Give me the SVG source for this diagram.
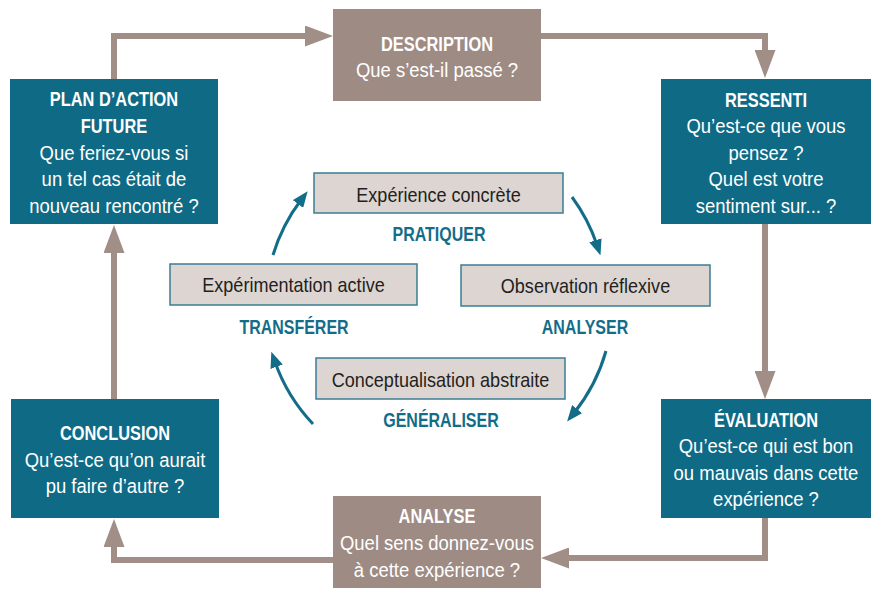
<svg xmlns="http://www.w3.org/2000/svg" width="873" height="615" viewBox="0 0 873 615">
<style>
text{font-family:"Liberation Sans",Arial,sans-serif;text-anchor:middle;transform-box:fill-box;transform-origin:center}
.teal{fill:#0e6a85}
.brown{fill:#9e8b84}
.inner{fill:#dcd5d2;stroke:#3b7d93;stroke-width:1.5}
.h{font-weight:bold;font-size:20px;fill:#fff;transform:scaleX(0.82)}
.t{font-size:21px;fill:#fff;transform:scaleX(0.88)}
.d{font-size:20.5px;fill:#231f20;transform:scaleX(0.88)}
.l{font-weight:bold;font-size:19.5px;fill:#136d89;transform:scaleX(0.82)}
.conn{fill:none;stroke:#a08e87;stroke-width:6}
.cyc{fill:none;stroke:#136d89;stroke-width:3}
</style>
<defs>
<marker id="big" markerUnits="userSpaceOnUse" markerWidth="28" markerHeight="21" refX="5" refY="10.5" orient="auto">
<path d="M0,0 L28,10.5 L0,21 z" fill="#a08e87"/>
</marker>
<marker id="small" markerUnits="userSpaceOnUse" markerWidth="16" markerHeight="13" refX="5" refY="6.5" orient="auto">
<path d="M0,0 L16,6.5 L0,13 z" fill="#136d89"/>
</marker>
</defs>
<rect width="873" height="615" fill="#fff"/>
<g id="connectors">
<path class="conn" d="M114,79 V36 H310" marker-end="url(#big)"/>
<path class="conn" d="M541,36 H765 V55" marker-end="url(#big)"/>
<path class="conn" d="M765,224 V376" marker-end="url(#big)"/>
<path class="conn" d="M765,518 V558 H564" marker-end="url(#big)"/>
<path class="conn" d="M333,560 H114 V542" marker-end="url(#big)"/>
<path class="conn" d="M114,399 V248" marker-end="url(#big)"/>
<path class="cyc" d="M273,255 A175,175 0 0 1 301,200" marker-end="url(#small)"/>
<path class="cyc" d="M572,197 A175,175 0 0 1 597,245" marker-end="url(#small)"/>
<path class="cyc" d="M606,351 A175,175 0 0 1 574,413" marker-end="url(#small)"/>
<path class="cyc" d="M313,424 A175,175 0 0 1 275,362" marker-end="url(#small)"/>
</g>
<g id="description">
<rect class="brown" x="333" y="9" width="208" height="92"/>
<text class="h" x="437" y="51">DESCRIPTION</text>
<text class="t" x="437" y="77.5">Que s’est-il passé ?</text>
</g>
<g id="ressenti">
<rect class="teal" x="661" y="79" width="210" height="145"/>
<text class="h" x="766" y="107">RESSENTI</text>
<text class="t" x="766" y="133.5">Qu’est-ce que vous</text>
<text class="t" x="766" y="160">pensez ?</text>
<text class="t" x="766" y="186.5">Quel est votre</text>
<text class="t" x="766" y="213">sentiment sur... ?</text>
</g>
<g id="evaluation">
<rect class="teal" x="661" y="399" width="210" height="119"/>
<text class="h" x="766" y="427">ÉVALUATION</text>
<text class="t" x="766" y="453.5">Qu’est-ce qui est bon</text>
<text class="t" x="766" y="480">ou mauvais dans cette</text>
<text class="t" x="766" y="506.5">expérience ?</text>
</g>
<g id="analyse">
<rect class="brown" x="333" y="496" width="208" height="92"/>
<text class="h" x="437" y="523">ANALYSE</text>
<text class="t" x="437" y="550">Quel sens donnez-vous</text>
<text class="t" x="437" y="577">à cette expérience ?</text>
</g>
<g id="conclusion">
<rect class="teal" x="11" y="399" width="208" height="119"/>
<text class="h" x="115" y="440">CONCLUSION</text>
<text class="t" x="115" y="467">Qu’est-ce qu’on aurait</text>
<text class="t" x="115" y="493">pu faire d’autre ?</text>
</g>
<g id="plan">
<rect class="teal" x="10" y="79" width="208" height="145"/>
<text class="h" x="114" y="106">PLAN D’ACTION</text>
<text class="h" x="114" y="133">FUTURE</text>
<text class="t" x="114" y="160">Que feriez-vous si</text>
<text class="t" x="114" y="186.5">un tel cas était de</text>
<text class="t" x="114" y="213">nouveau rencontré ?</text>
</g>
<g id="experience-concrete">
<rect class="inner" x="314" y="173" width="249" height="40"/>
<text class="d" x="438.5" y="202">Expérience concrète</text>
<text class="l" x="439" y="241">PRATIQUER</text>
</g>
<g id="observation-reflexive">
<rect class="inner" x="461" y="265" width="249" height="41"/>
<text class="d" x="585.5" y="293">Observation réflexive</text>
<text class="l" x="585" y="334">ANALYSER</text>
</g>
<g id="conceptualisation-abstraite">
<rect class="inner" x="316" y="358" width="249" height="41"/>
<text class="d" x="440.5" y="387">Conceptualisation abstraite</text>
<text class="l" x="441" y="427">GÉNÉRALISER</text>
</g>
<g id="experimentation-active">
<rect class="inner" x="170" y="264" width="247" height="41"/>
<text class="d" x="293.5" y="292">Expérimentation active</text>
<text class="l" x="294" y="334">TRANSFÉRER</text>
</g>
</svg>
